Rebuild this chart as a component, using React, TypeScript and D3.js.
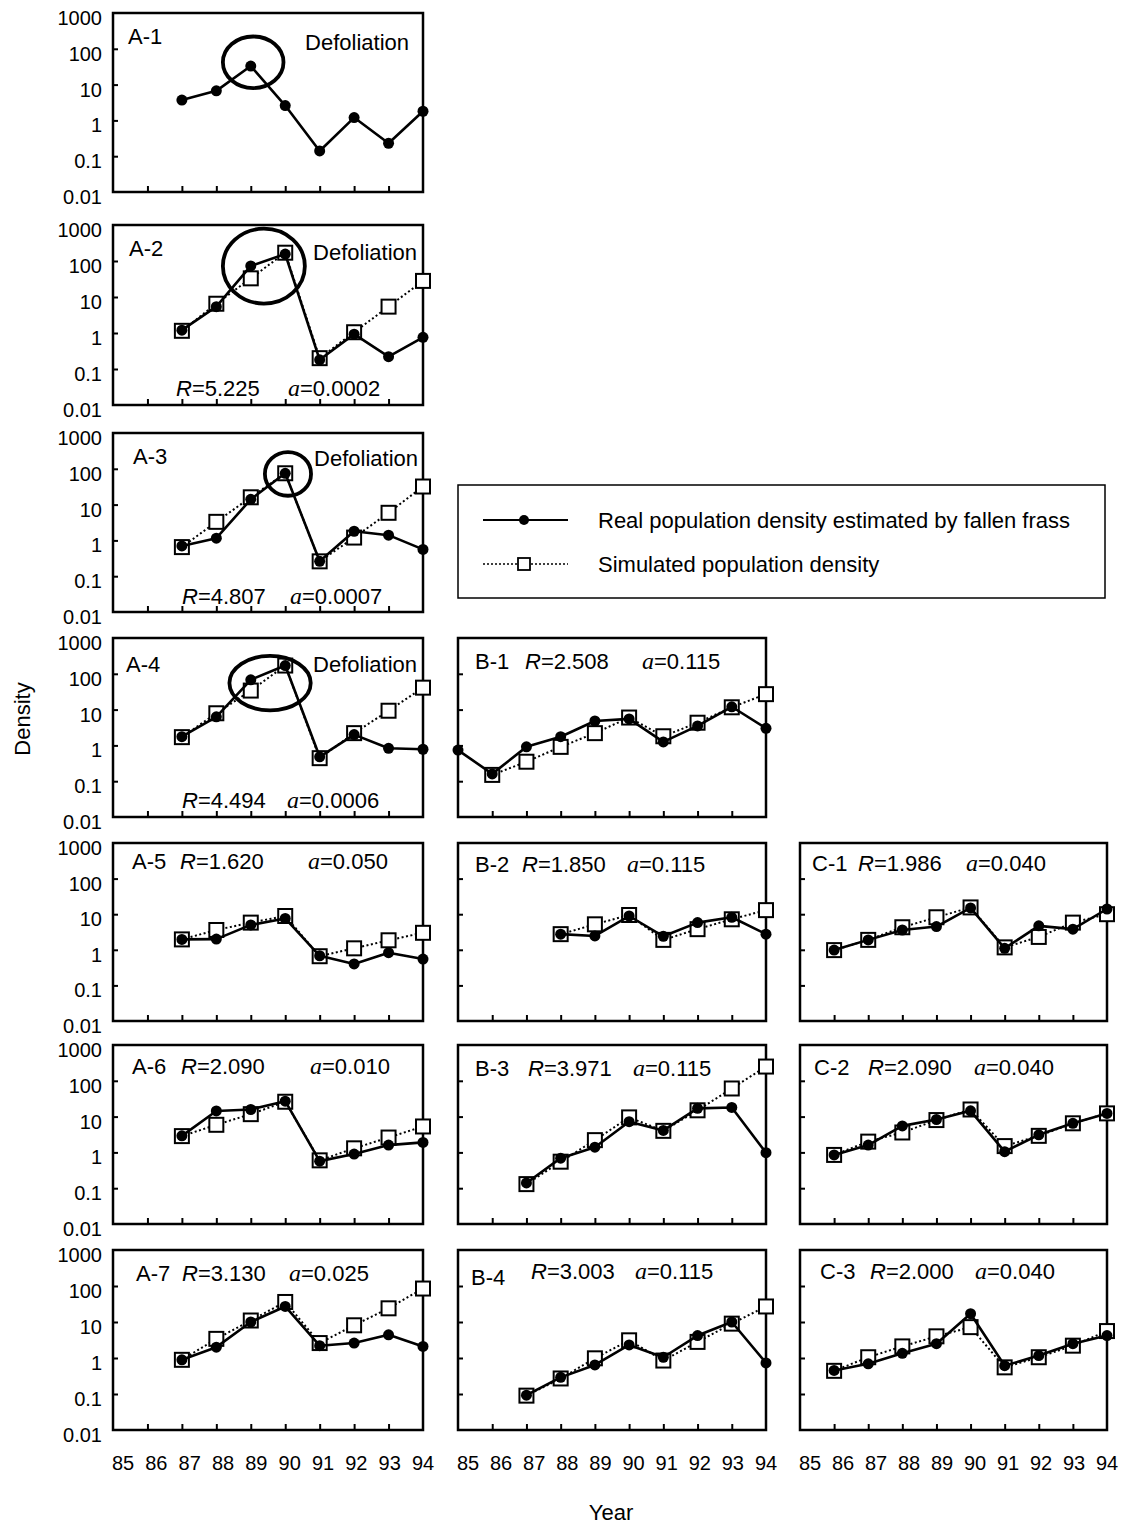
import React, { useEffect, useRef } from 'react';
import * as d3 from 'd3';

// years on the x axis (19xx)
const years = [85, 86, 87, 88, 89, 90, 91, 92, 93, 94];
const yTickValues = [1000, 100, 10, 1, 0.1, 0.01];
const yTickLabels = ['1000', '100', '10', '1', '0.1', '0.01'];

// densities, one entry per year 85..94 (null = no value)
const a1Real = [null, null, 3.7, 6.7, 33, 2.6, 0.14, 1.2, 0.23, 1.8];
const a2Real = [null, null, 1.2, 5.4, 73, 156, 0.18, 0.93, 0.22, 0.76];
const a2Sim = [null, null, 1.15, 6.5, 33, 170, 0.2, 1.05, 5.4, 28];
const a3Real = [null, null, 0.7, 1.15, 14, 75, 0.26, 1.8, 1.4, 0.56];
const a3Sim = [null, null, 0.65, 3.3, 16, 75, 0.26, 1.2, 5.9, 32];
const a4Real = [null, null, 1.75, 6.3, 68, 170, 0.48, 2.0, 0.83, 0.78];
const a4Sim = [null, null, 1.7, 7.9, 34, 170, 0.44, 2.2, 9.3, 41];
const a5Real = [null, null, 1.96, 2.0, 5.0, 7.6, 0.68, 0.4, 0.83, 0.55];
const a5Sim = [null, null, 1.96, 3.6, 5.8, 8.9, 0.66, 1.1, 1.85, 3.0];
const a6Real = [null, null, 2.9, 14.4, 15.8, 27, 0.57, 0.9, 1.6, 1.9];
const a6Sim = [null, null, 2.85, 5.9, 11.7, 26, 0.6, 1.3, 2.6, 5.3];
const a7Real = [null, null, 0.89, 2.0, 10, 27, 2.2, 2.6, 4.4, 2.1];
const a7Sim = [null, null, 0.89, 3.4, 11, 36, 2.6, 8.1, 24, 85];
const b1Real = [0.74, 0.16, 0.91, 1.75, 4.8, 5.5, 1.25, 3.5, 12, 3.0];
const b1Sim = [null, 0.15, 0.35, 0.91, 2.2, 6.0, 1.8, 4.3, 11.6, 27];
const b2Real = [null, null, null, 2.75, 2.45, 8.9, 2.4, 5.8, 8.2, 2.75];
const b2Sim = [null, null, null, 2.75, 5.2, 9.5, 1.9, 3.8, 7.2, 13];
const b3Real = [null, null, 0.14, 0.69, 1.4, 7.2, 4.1, 17, 18, 0.98];
const b3Sim = [null, null, 0.13, 0.55, 2.2, 9.5, 4.0, 15, 61, 250];
const b4Real = [null, null, 0.093, 0.29, 0.64, 2.3, 1.05, 4.2, 10, 0.73];
const b4Sim = [null, null, 0.09, 0.27, 0.98, 3.1, 0.85, 2.8, 9, 27];
const c1Real = [null, 0.98, 1.9, 3.6, 4.5, 15, 1.1, 4.7, 3.8, 14];
const c1Sim = [null, 0.98, 1.9, 4.3, 8.2, 15.5, 1.17, 2.3, 5.8, 10];
const c2Real = [null, 0.85, 1.6, 5.5, 8.3, 14.5, 1.05, 3.1, 6.5, 12.3];
const c2Sim = [null, 0.85, 2.0, 3.6, 8, 15.8, 1.5, 2.9, 6.5, 12.3];
const c3Real = [null, 0.45, 0.69, 1.35, 2.5, 17, 0.61, 1.17, 2.5, 4.2];
const c3Sim = [null, 0.44, 1.05, 2.1, 4.0, 7.2, 0.55, 1.05, 2.2, 5.6];

const panelNames = ['A-1', 'A-2', 'A-3', 'A-4', 'A-5', 'A-6', 'A-7', 'B-1', 'B-2', 'B-3', 'B-4', 'C-1', 'C-2', 'C-3'];
const rValues = [null, '5.225', '4.807', '4.494', '1.620', '2.090', '3.130', '2.508', '1.850', '3.971', '3.003', '1.986', '2.090', '2.000'];
const aValues = [null, '0.0002', '0.0007', '0.0006', '0.050', '0.010', '0.025', '0.115', '0.115', '0.115', '0.115', '0.040', '0.040', '0.040'];
const realSeries = [a1Real, a2Real, a3Real, a4Real, a5Real, a6Real, a7Real, b1Real, b2Real, b3Real, b4Real, c1Real, c2Real, c3Real];
const simSeries = [null, a2Sim, a3Sim, a4Sim, a5Sim, a6Sim, a7Sim, b1Sim, b2Sim, b3Sim, b4Sim, c1Sim, c2Sim, c3Sim];

// defoliation rings: centre year, centre density, half-width (years), half-height (decades)
const defoliation = {
  'A-1': [89.07, 42, 0.88, 0.72],
  'A-2': [89.38, 72, 1.19, 1.04],
  'A-3': [90.08, 72, 0.67, 0.61],
  'A-4': [89.56, 55, 1.18, 0.76],
};
// "Defoliation" label: right inset, baseline from top
const defolText = { 'A-1': [14, 37], 'A-2': [6, 35], 'A-3': [5, 33], 'A-4': [6, 34] };

const legendLabels = ['Real population density estimated by fallen frass', 'Simulated population density'];

// layout
const W = 1126, H = 1528;
const cols = [[113, 423], [458, 766], [800, 1107]];
const rows = [[13, 192], [225, 405], [433, 612], [638, 817], [843, 1021], [1045, 1224], [1250, 1430]];
const panelPlace = {
  'A-1': [0, 0], 'A-2': [0, 1], 'A-3': [0, 2], 'A-4': [0, 3], 'A-5': [0, 4], 'A-6': [0, 5], 'A-7': [0, 6],
  'B-1': [1, 3], 'B-2': [1, 4], 'B-3': [1, 5], 'B-4': [1, 6],
  'C-1': [2, 4], 'C-2': [2, 5], 'C-3': [2, 6],
};
// text offsets from panel left/top: [nameX, nameY, rX, aX, statY]
const textPlace = {
  'A-1': [15, 31, 0, 0, 0],
  'A-2': [16, 31, 63, 175, 171],
  'A-3': [20, 31, 69, 177, 171],
  'A-4': [13, 34, 69, 174, 170],
  'A-5': [19, 26, 67, 195, 26],
  'A-6': [19, 29, 68, 197, 29],
  'A-7': [23, 31, 69, 176, 31],
  'B-1': [17, 31, 67, 184, 31],
  'B-2': [17, 29, 64, 169, 29],
  'B-3': [17, 31, 70, 175, 31],
  'B-4': [13, 35, 73, 177, 29],
  'C-1': [12, 28, 58, 166, 28],
  'C-2': [14, 30, 68, 174, 30],
  'C-3': [20, 29, 70, 175, 29],
};

const SANS = '"Liberation Sans", Arial, Helvetica, sans-serif';
const SERIF = '"Liberation Serif", "Times New Roman", serif';
const FS_TICK = 20;
const FS = 22;

function pts(arr) {
  return arr.map((v, i) => ({ yr: years[i], v })).filter((d) => d.v != null);
}

function drawPanel(svg, name, idx) {
  const [col, row] = panelPlace[name];
  const [x0, x1] = cols[col];
  const [y0, y1] = rows[row];
  const x = d3.scaleLinear().domain([85, 94]).range([x0, x1]);
  const y = d3.scaleLog().domain([0.01, 1000]).range([y1, y0]);
  const g = svg.append('g');

  // inward ticks
  g.append('g')
    .attr('transform', `translate(0,${y1})`)
    .call(d3.axisBottom(x).tickValues(years.slice(1, -1)).tickSizeInner(-6).tickSizeOuter(0).tickFormat(() => ''))
    .call((a) => a.select('.domain').remove())
    .selectAll('line').attr('stroke', '#000').attr('stroke-width', 2);
  g.append('g')
    .attr('transform', `translate(${x0},0)`)
    .call(d3.axisLeft(y).tickValues([100, 10, 1, 0.1]).tickSizeInner(-5).tickSizeOuter(0).tickFormat(() => ''))
    .call((a) => a.select('.domain').remove())
    .selectAll('line').attr('stroke', '#000').attr('stroke-width', 2);

  g.append('rect')
    .attr('x', x0).attr('y', y0).attr('width', x1 - x0).attr('height', y1 - y0)
    .attr('fill', 'none').attr('stroke', '#000').attr('stroke-width', 2.5);

  // y tick labels in the first column only
  if (col === 0) {
    g.selectAll('text.ytl').data(yTickValues).enter().append('text')
      .attr('class', 'ytl')
      .attr('x', x0 - 11).attr('y', (d) => y(d) + 12)
      .attr('text-anchor', 'end').attr('font-family', SANS).attr('font-size', FS_TICK)
      .text((d, i) => yTickLabels[i]);
  }

  const line = d3.line().x((d) => x(d.yr)).y((d) => y(d.v));

  const sim = simSeries[idx];
  if (sim) {
    const sp = pts(sim);
    g.append('path').attr('d', line(sp)).attr('fill', 'none').attr('stroke', '#000')
      .attr('stroke-width', 2).attr('stroke-dasharray', '2,2.5');
    g.selectAll('rect.sim').data(sp).enter().append('rect')
      .attr('class', 'sim')
      .attr('x', (d) => x(d.yr) - 7).attr('y', (d) => y(d.v) - 7)
      .attr('width', 14).attr('height', 14)
      .attr('fill', '#fff').attr('stroke', '#000').attr('stroke-width', 2);
  }

  const rp = pts(realSeries[idx]);
  g.append('path').attr('d', line(rp)).attr('fill', 'none').attr('stroke', '#000')
    .attr('stroke-width', 2.6).attr('stroke-linejoin', 'round');
  g.selectAll('circle.real').data(rp).enter().append('circle')
    .attr('class', 'real')
    .attr('cx', (d) => x(d.yr)).attr('cy', (d) => y(d.v)).attr('r', 5.5).attr('fill', '#000');

  // defoliation ring
  const ring = defoliation[name];
  if (ring) {
    const [cy, cv, rx, ry] = ring;
    g.append('ellipse')
      .attr('cx', x(cy)).attr('cy', y(cv))
      .attr('rx', x(85 + rx) - x(85)).attr('ry', y(1) - y(Math.pow(10, ry)))
      .attr('fill', 'none').attr('stroke', '#000').attr('stroke-width', 3.8);
    const [dx, dy] = defolText[name];
    g.append('text')
      .attr('x', x1 - dx).attr('y', y0 + dy)
      .attr('text-anchor', 'end').attr('font-family', SANS).attr('font-size', FS)
      .text('Defoliation');
  }

  // panel label and parameters
  const [nx, ny, rx, ax, sy] = textPlace[name];
  g.append('text').attr('x', x0 + nx).attr('y', y0 + ny)
    .attr('font-family', SANS).attr('font-size', FS).text(name);
  if (rValues[idx]) {
    const t = g.append('text').attr('x', x0 + rx).attr('y', y0 + sy)
      .attr('font-family', SANS).attr('font-size', FS);
    t.append('tspan').attr('font-style', 'italic').text('R');
    t.append('tspan').text('=' + rValues[idx]);
    const t2 = g.append('text').attr('x', x0 + ax).attr('y', y0 + sy)
      .attr('font-family', SANS).attr('font-size', FS);
    t2.append('tspan').attr('font-family', SERIF).attr('font-style', 'italic').attr('font-size', FS + 2).text('a');
    t2.append('tspan').text('=' + aValues[idx]);
  }

  // year labels under the bottom row
  if (row === 6) {
    const lx = d3.scalePoint().domain(years).range([x0 + 10, x1]);
    g.selectAll('text.yr').data(years).enter().append('text')
      .attr('class', 'yr')
      .attr('x', (d) => lx(d)).attr('y', 1470)
      .attr('text-anchor', 'middle').attr('font-family', SANS).attr('font-size', FS_TICK)
      .text((d) => d);
  }
}

function drawLegend(svg) {
  const g = svg.append('g');
  g.append('rect').attr('x', 458).attr('y', 485).attr('width', 647).attr('height', 113)
    .attr('fill', 'none').attr('stroke', '#000').attr('stroke-width', 1.5);
  const ly = [520, 564];
  g.append('line').attr('x1', 483).attr('x2', 568).attr('y1', ly[0]).attr('y2', ly[0])
    .attr('stroke', '#000').attr('stroke-width', 2);
  g.append('circle').attr('cx', 524).attr('cy', ly[0]).attr('r', 5).attr('fill', '#000');
  g.append('line').attr('x1', 483).attr('x2', 568).attr('y1', ly[1]).attr('y2', ly[1])
    .attr('stroke', '#000').attr('stroke-width', 1.5).attr('stroke-dasharray', '2,2');
  g.append('rect').attr('x', 518).attr('y', ly[1] - 6).attr('width', 12).attr('height', 12)
    .attr('fill', '#fff').attr('stroke', '#000').attr('stroke-width', 1.8);
  g.selectAll('text.leg').data(legendLabels).enter().append('text')
    .attr('class', 'leg')
    .attr('x', 598).attr('y', (d, i) => ly[i] + 8)
    .attr('font-family', SANS).attr('font-size', FS)
    .text((d) => d);
}

export default function App() {
  const ref = useRef(null);

  useEffect(() => {
    const svg = d3.select(ref.current);
    svg.selectAll('*').remove();
    svg.append('rect').attr('width', W).attr('height', H).attr('fill', '#fff');

    panelNames.forEach((name, i) => drawPanel(svg, name, i));
    drawLegend(svg);

    svg.append('text')
      .attr('transform', 'translate(30,719) rotate(-90)')
      .attr('text-anchor', 'middle').attr('font-family', SANS).attr('font-size', FS)
      .text('Density');
    svg.append('text')
      .attr('x', 611).attr('y', 1520)
      .attr('text-anchor', 'middle').attr('font-family', SANS).attr('font-size', FS)
      .text('Year');
  }, []);

  return (
    <svg ref={ref} width={W} height={H}
      style={{ position: 'absolute', left: 0, top: 0, display: 'block' }} />
  );
}
